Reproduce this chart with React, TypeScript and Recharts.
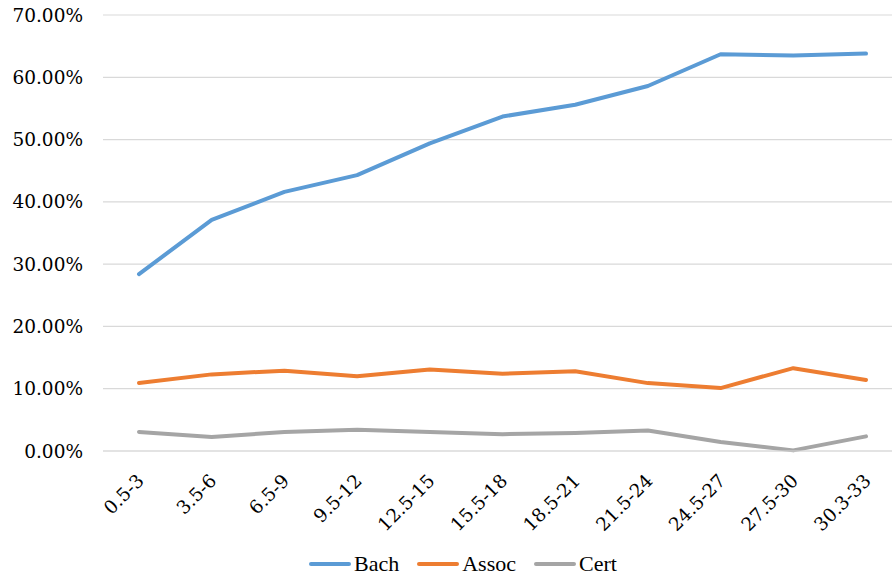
import { LineChart, Line, XAxis, YAxis, CartesianGrid } from "recharts";

const categories = [
  "0.5-3",
  "3.5-6",
  "6.5-9",
  "9.5-12",
  "12.5-15",
  "15.5-18",
  "18.5-21",
  "21.5-24",
  "24.5-27",
  "27.5-30",
  "30.3-33",
];

const bach = [0.284, 0.371, 0.416, 0.443, 0.494, 0.537, 0.556, 0.586, 0.637, 0.635, 0.638];
const assoc = [0.109, 0.123, 0.129, 0.12, 0.131, 0.124, 0.128, 0.109, 0.101, 0.133, 0.114];
const cert = [0.0305, 0.0225, 0.0305, 0.034, 0.0305, 0.027, 0.029, 0.033, 0.0145, 0.001, 0.0235];

const yTicks = [0, 0.1, 0.2, 0.3, 0.4, 0.5, 0.6, 0.7];

const series = [
  { key: "bach", name: "Bach", color: "#5B9BD5" },
  { key: "assoc", name: "Assoc", color: "#ED7D31" },
  { key: "cert", name: "Cert", color: "#A5A5A5" },
];

const data = categories.map((c, i) => ({
  range: c,
  bach: bach[i],
  assoc: assoc[i],
  cert: cert[i],
}));

const tickFont = "'DejaVu Serif', Georgia, serif";

// rotated category labels, ending just right of the tick
function RangeTick(props: any) {
  const { x, y, payload } = props;
  return (
    <g transform={`translate(${x + 6},${y + 31})`}>
      <text
        x={0}
        y={0}
        textAnchor="end"
        transform="rotate(-45)"
        fontFamily={tickFont}
        fontSize={18.5}
        fill="#000"
      >
        {payload.value}
      </text>
    </g>
  );
}

export default function App() {
  return (
    <div
      style={{
        position: "absolute",
        left: 0,
        top: 0,
        width: 892,
        height: 578,
        overflow: "hidden",
        background: "#fff",
      }}
    >
      <LineChart
        width={902}
        height={578}
        data={data}
        margin={{ top: 15, right: 0, left: 0, bottom: 0 }}
      >
        <CartesianGrid vertical={false} stroke="#d9d9d9" strokeWidth={1.2} />
        <XAxis
          dataKey="range"
          height={127}
          padding={{ left: 36, right: 36 }}
          tickLine={false}
          tickSize={0}
          tickMargin={0}
          axisLine={{ stroke: "#d9d9d9", strokeWidth: 1.2 }}
          interval={0}
          tick={<RangeTick />}
        />
        <YAxis
          width={103}
          domain={[0, 0.7]}
          ticks={yTicks}
          axisLine={false}
          tickLine={false}
          tickSize={0}
          tickMargin={20}
          tickFormatter={(v: number) => `${(v * 100).toFixed(2)}%`}
          tick={{ fontFamily: tickFont, fontSize: 18.5, fill: "#000" }}
        />
        {series.map((s) => (
          <Line
            key={s.key}
            type="linear"
            dataKey={s.key}
            name={s.name}
            stroke={s.color}
            strokeWidth={4}
            strokeLinecap="round"
            strokeLinejoin="round"
            dot={false}
            activeDot={false}
            isAnimationActive={false}
          />
        ))}
      </LineChart>
      <div
        style={{
          position: "absolute",
          top: 551,
          left: 308,
          display: "flex",
          fontFamily: "'Liberation Serif', 'Times New Roman', serif",
          fontSize: 22,
          color: "#000",
        }}
      >
        {series.map((s) => (
          <div
            key={s.key}
            style={{ display: "flex", alignItems: "center", marginRight: 17 }}
          >
            <svg width={44} height={8} style={{ marginRight: 2 }}>
              <line
                x1={3}
                y1={4}
                x2={41}
                y2={4}
                stroke={s.color}
                strokeWidth={4}
                strokeLinecap="round"
              />
            </svg>
            <span>{s.name}</span>
          </div>
        ))}
      </div>
    </div>
  );
}
